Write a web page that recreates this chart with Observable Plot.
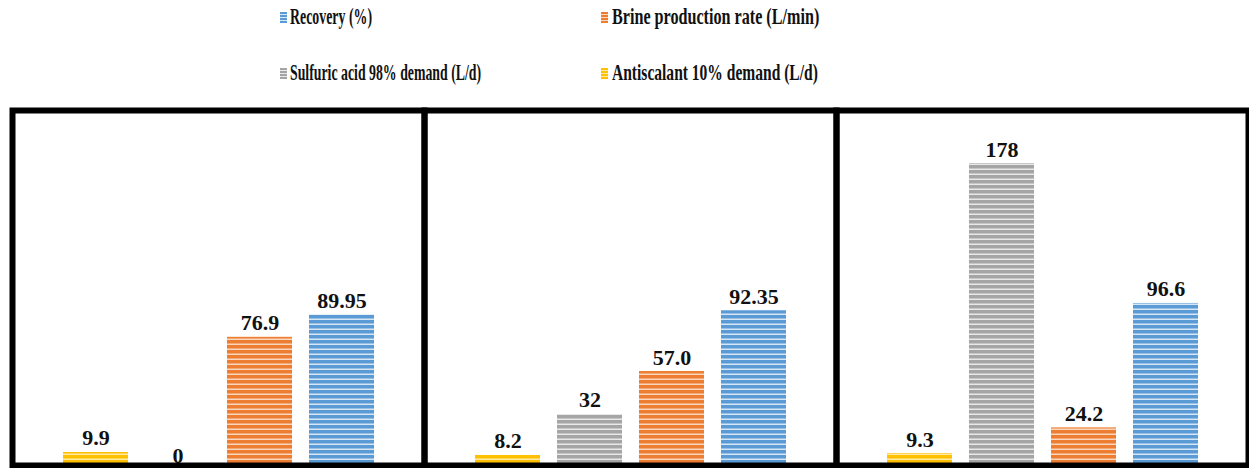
<!DOCTYPE html>
<html>
<head>
<meta charset="utf-8">
<script src="https://cdn.jsdelivr.net/npm/d3@7"></script>
<script src="https://cdn.jsdelivr.net/npm/@observablehq/plot@0.6"></script>
<style>
  html, body { margin: 0; padding: 0; background: #fff; width: 1249px; height: 468px; overflow: hidden; }
  #wrap { position: relative; width: 1249px; height: 468px; }
  #chart { position: absolute; left: 0; top: 100px; }
  .leg { position: absolute; height: 26px; font-family: "Liberation Serif", "Times New Roman", serif; font-weight: bold; font-size: 23px; color: #111; white-space: nowrap; }
  .leg .sw { position: absolute; width: 7px; height: 11px; }
  .leg .tx { position: absolute; top: 0; line-height: 26px; display: inline-block; transform-origin: left center; }
</style>
</head>
<body>
<div id="wrap">
  <div id="legend"></div>
  <div id="chart"></div>
</div>
<script>
// ---- data ----
const panels = ["Case 1", "Case 2", "Case 3"];
const series = [
  "Antiscalant 10% demand (L/d)",
  "Sulfuric acid 98% demand (L/d)",
  "Brine production rate (L/min)",
  "Recovery (%)"
];
const antiscalant = [9.9, 8.2, 9.3];
const sulfuric = [0, 32, 178];
const brine = [76.9, 57.0, 24.2];
const recovery = [89.95, 92.35, 96.6];
const seriesValues = [antiscalant, sulfuric, brine, recovery];
const seriesFormats = [d3.format(".1f"), d3.format("d"), d3.format(".1f"), v => String(v)];
const seriesColors = ["#ffc000", "#a5a5a5", "#ed7d31", "#5b9bd5"];
const seriesLight = ["#ffeaa6", "#e8e8e8", "#fad6bd", "#d6e6f5"];
const legendOrder = [3, 2, 1, 0];

const rows = [];
panels.forEach((p, i) => {
  series.forEach((s, j) => {
    rows.push({panel: p, series: s, value: seriesValues[j][i], label: seriesFormats[j](seriesValues[j][i])});
  });
});

const patternIds = series.map((s, i) => `stripe${i}`);

function patternDefs() {
  const defs = d3.create("svg:defs");
  seriesColors.forEach((c, i) => {
    const p = defs.append("pattern")
      .attr("id", patternIds[i])
      .attr("patternUnits", "userSpaceOnUse")
      .attr("width", 10).attr("height", 5);
    p.append("rect").attr("width", 10).attr("height", 5).attr("fill", seriesLight[i]);
    p.append("rect").attr("width", 10).attr("height", 3.5).attr("fill", c);
  });
  return defs.node();
}

const H = 372;
const baseline = 369;
const pxPerUnit = 1.719;

const chart = Plot.plot({
  width: 1249,
  height: H,
  marginTop: 10,
  marginBottom: 7,
  marginLeft: 11,
  marginRight: 1,
  style: {background: "transparent", overflow: "visible"},
  fx: {domain: panels, padding: 0, axis: null},
  x: {domain: series, paddingInner: 0.21, paddingOuter: 0.605, axis: null},
  y: {domain: [0, 200], range: [baseline, baseline - 200 * pxPerUnit], axis: null},
  color: {domain: series, range: patternIds.map(id => `url(#${id})`)},
  marks: [
    patternDefs,
    Plot.barY(rows, {fx: "panel", x: "series", y: "value", fill: "series"}),
    Plot.text(rows, {
      fx: "panel", x: "series", y: "value", text: "label",
      lineAnchor: "bottom", dy: -7,
      fontSize: 22, fontWeight: "bold", fontFamily: "Liberation Serif, Times New Roman, serif",
      fill: "#111"
    }),
    Plot.frame({stroke: "#000", strokeWidth: 6})
  ]
});
document.getElementById("chart").appendChild(chart);

// ---- legend ----
const legendPos = [
  {x: 280, y: 17, w: 82}, {x: 601, y: 17, w: 207},
  {x: 280, y: 73, w: 191}, {x: 601, y: 73, w: 206}
];
const legend = document.getElementById("legend");
legendOrder.forEach((si, k) => {
  const pos = legendPos[k];
  const item = document.createElement("div");
  item.className = "leg";
  item.style.left = pos.x + "px";
  item.style.top = (pos.y - 13) + "px";
  const sw = document.createElement("span");
  sw.className = "sw";
  sw.style.left = "0px";
  sw.style.top = "8px";
  sw.style.background = `repeating-linear-gradient(to bottom, ${seriesColors[si]} 0px, ${seriesColors[si]} 2px, ${seriesLight[si]} 2px, ${seriesLight[si]} 3px)`;
  const tx = document.createElement("span");
  tx.className = "tx";
  tx.style.left = (k % 2 === 0 ? 10 : 11) + "px";
  tx.textContent = series[si];
  item.appendChild(sw);
  item.appendChild(tx);
  legend.appendChild(item);
  const natural = tx.offsetWidth;
  if (natural > 0) tx.style.transform = `scaleX(${pos.w / natural})`;
});
</script>
</body>
</html>
